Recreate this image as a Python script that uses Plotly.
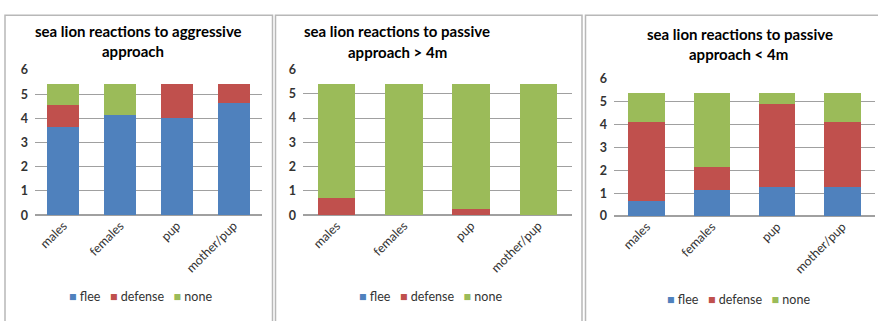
import plotly.graph_objects as go

W, H = 878, 321

categories = ["males", "females", "pup", "mother/pup"]
series_names = ["flee", "defense", "none"]
colors = ["#4F81BD", "#C0504D", "#9BBB59"]

# panel 1: aggressive approach
agg_flee = [3.65, 4.12, 4.0, 4.65]
agg_defense = [0.9, 0.0, 1.4, 0.75]
agg_none = [0.85, 1.28, 0.0, 0.0]

# panel 2: passive approach > 4m
pg_flee = [0.0, 0.0, 0.0, 0.0]
pg_defense = [0.7, 0.0, 0.25, 0.0]
pg_none = [4.7, 5.4, 5.15, 5.4]

# panel 3: passive approach < 4m
pl_flee = [0.65, 1.13, 1.28, 1.28]
pl_defense = [3.45, 1.03, 3.6, 2.82]
pl_none = [1.3, 3.24, 0.52, 1.3]

titles = [
    ("sea lion reactions to aggressive", "approach"),
    ("sea lion reactions to passive", "approach > 4m"),
    ("sea lion reactions to passive", "approach < 4m"),
]
y_ticks = [0, 1, 2, 3, 4, 5, 6]

panels = [
    [agg_flee, agg_defense, agg_none],
    [pg_flee, pg_defense, pg_none],
    [pl_flee, pl_defense, pl_none],
]

def px(x):
    return x / W

def py(y):
    return 1 - y / H

# plot areas in pixels (x0, x1, ytop, ybottom)
areas = [(35, 262, 65, 217.3), (303, 572, 64.5, 217.3), (614, 875, 74.3, 218.3)]
borders = [(5, 272.5), (275.5, 582), (585.5, 885)]
title_pos = [((138, 24), (133, 45)), ((397, 24), (397, 46)), ((740, 27), (738, 48))]
legend_pos = [(140, 303), (430, 303), (738, 306)]

fig = go.Figure()
font_family = "Lato, 'Open Sans', sans-serif"

legend_text = "&nbsp;&nbsp;&nbsp;".join(
    f"<span style='color:{c}'>■</span>&nbsp;{n}" for n, c in zip(series_names, colors)
)

for i, data in enumerate(panels):
    xa = "x" if i == 0 else f"x{i+1}"
    ya = "y" if i == 0 else f"y{i+1}"
    for name, vals, col in zip(series_names, data, colors):
        fig.add_trace(go.Bar(
            x=categories, y=vals, name=name, marker=dict(color=col, line=dict(width=0)),
            xaxis=xa, yaxis=ya, showlegend=False,
        ))
    x0, x1, yt, yb = areas[i]
    xkey = "xaxis" if i == 0 else f"xaxis{i+1}"
    ykey = "yaxis" if i == 0 else f"yaxis{i+1}"
    fig.update_layout(**{
        xkey: dict(domain=[px(x0), px(x1)], anchor=ya, tickangle=-45,
                   showgrid=False, showline=False, zeroline=False,
                   tickfont=dict(family=font_family, size=12.5, color="#333333"),
                   fixedrange=True),
        ykey: dict(domain=[py(yb), py(yt)], anchor=xa, range=[0, 6],
                   tickvals=y_ticks, showgrid=True, gridcolor="#a0a0a0", gridwidth=1,
                   zeroline=True, zerolinecolor="#a0a0a0", showline=False,
                   ticklabelstandoff=6,
                   tickfont=dict(family=font_family, size=12.5, color="#333333", weight="bold"),
                   fixedrange=True),
    })
    # panel border
    bx0, bx1 = borders[i]
    fig.add_shape(type="rect", xref="paper", yref="paper",
                  x0=px(bx0), x1=px(bx1), y0=py(330), y1=py(7.5),
                  line=dict(color="#b8b8b8", width=1.5), layer="below")
    # title
    for (tx, ty), txt in zip(title_pos[i], titles[i]):
        fig.add_annotation(text=txt, x=px(tx), y=py(ty), xref="paper", yref="paper",
                           xanchor="center", yanchor="middle", showarrow=False,
                           font=dict(family=font_family, size=15, color="#000000", weight="bold"))
    # legend
    lx, ly = legend_pos[i]
    fig.add_annotation(text=legend_text, x=px(lx), y=py(ly), xref="paper", yref="paper",
                       xanchor="center", yanchor="middle", showarrow=False,
                       font=dict(family=font_family, size=12.5, color="#333333"))

fig.update_layout(
    width=W, height=H, barmode="stack", bargap=0.44,
    margin=dict(l=0, r=0, t=0, b=0),
    paper_bgcolor="white", plot_bgcolor="white",
)

fig.write_html("out.html")
